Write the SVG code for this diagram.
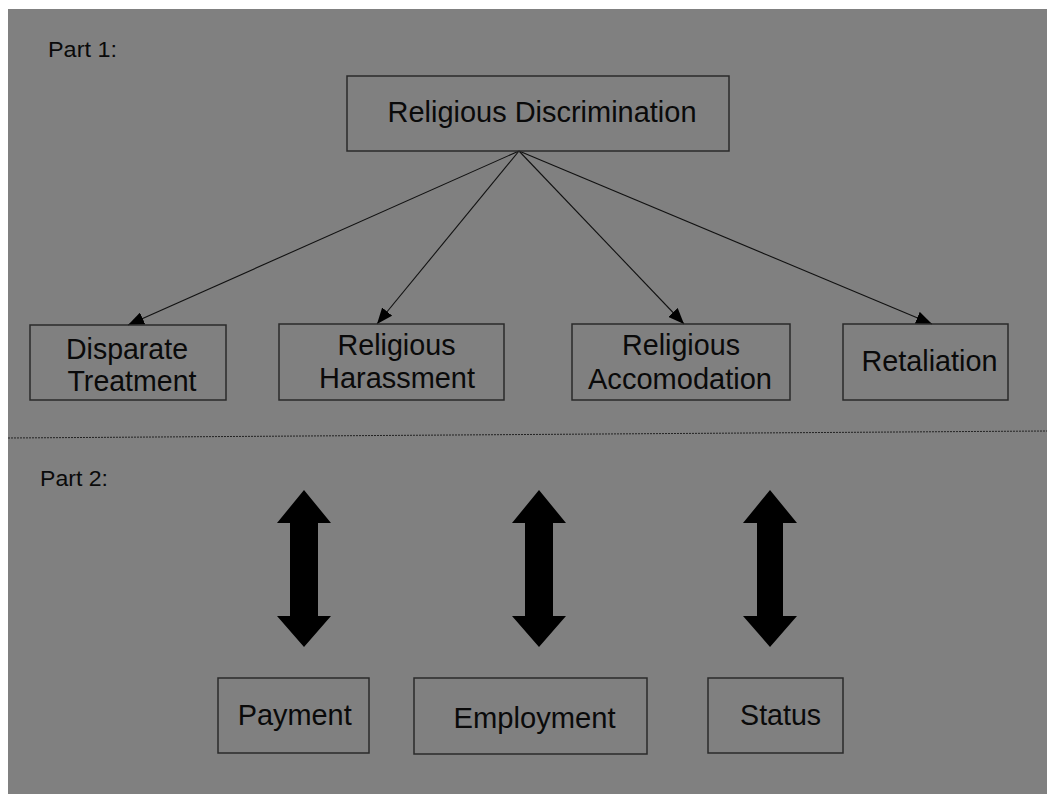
<svg xmlns="http://www.w3.org/2000/svg" width="1047" height="794" viewBox="0 0 1047 794">
<style>
.box{fill:none;stroke:#2a2a2a;stroke-width:1.5}
.t{font-family:"Liberation Sans",Arial,sans-serif;font-size:30px;fill:#0a0a0a;text-anchor:middle}
.lbl{font-family:"Liberation Sans",Arial,sans-serif;font-size:22px;fill:#0a0a0a}
.edge{stroke:#111;stroke-width:1.1;fill:none}
.big{fill:#000}
</style>
<defs>
<marker id="ah" markerUnits="userSpaceOnUse" markerWidth="17" markerHeight="13" refX="16" refY="6.5" orient="auto">
<path d="M0,0 L16,6.5 L0,13 z" fill="#000"/>
</marker>
</defs>
<rect x="0" y="0" width="1047" height="794" fill="#ffffff"/>
<rect x="8" y="9" width="1039" height="785" fill="#808080"/>
<text class="lbl" x="48" y="57" textLength="69" lengthAdjust="spacingAndGlyphs">Part 1:</text>
<text class="lbl" x="40" y="486" textLength="68" lengthAdjust="spacingAndGlyphs">Part 2:</text>
<line x1="8" y1="438" x2="1047" y2="431" stroke="#222" stroke-width="1" stroke-dasharray="2,1"/>
<g id="connectors">
<line class="edge" x1="519" y1="151" x2="128" y2="325" marker-end="url(#ah)"/>
<line class="edge" x1="519" y1="151" x2="377" y2="324" marker-end="url(#ah)"/>
<line class="edge" x1="519" y1="151" x2="684" y2="324" marker-end="url(#ah)"/>
<line class="edge" x1="519" y1="151" x2="932" y2="324" marker-end="url(#ah)"/>
<polygon class="big" points="304,490 331,523 318,523 318,616 331,616 304,647 277,616 290,616 290,523 277,523"/>
<polygon class="big" points="539,490 566,523 553,523 553,616 566,616 539,647 512,616 525,616 525,523 512,523"/>
<polygon class="big" points="770,490 797,523 783,523 783,616 797,616 770,647 743,616 757,616 757,523 743,523"/>
</g>
<g id="religious-discrimination">
<rect class="box" x="347" y="76" width="382" height="75"/>
<text class="t" x="542" y="122" textLength="309" lengthAdjust="spacingAndGlyphs">Religious Discrimination</text>
</g>
<g id="disparate-treatment">
<rect class="box" x="30" y="325" width="196" height="75"/>
<text class="t" x="127" y="359" textLength="122" lengthAdjust="spacingAndGlyphs">Disparate</text>
<text class="t" x="132" y="391" textLength="129" lengthAdjust="spacingAndGlyphs">Treatment</text>
</g>
<g id="religious-harassment">
<rect class="box" x="279" y="324" width="225" height="76"/>
<text class="t" x="396.5" y="355" textLength="118" lengthAdjust="spacingAndGlyphs">Religious</text>
<text class="t" x="397" y="388" textLength="156" lengthAdjust="spacingAndGlyphs">Harassment</text>
</g>
<g id="religious-accomodation">
<rect class="box" x="572" y="324" width="218" height="76"/>
<text class="t" x="681" y="355" textLength="118" lengthAdjust="spacingAndGlyphs">Religious</text>
<text class="t" x="680" y="389" textLength="184" lengthAdjust="spacingAndGlyphs">Accomodation</text>
</g>
<g id="retaliation">
<rect class="box" x="843" y="324" width="165" height="76"/>
<text class="t" x="929.5" y="371" textLength="136" lengthAdjust="spacingAndGlyphs">Retaliation</text>
</g>
<g id="payment">
<rect class="box" x="218" y="678" width="151" height="75"/>
<text class="t" x="294.7" y="725" textLength="114" lengthAdjust="spacingAndGlyphs">Payment</text>
</g>
<g id="employment">
<rect class="box" x="414" y="678" width="233" height="76"/>
<text class="t" x="534.6" y="728" textLength="162" lengthAdjust="spacingAndGlyphs">Employment</text>
</g>
<g id="status">
<rect class="box" x="708" y="678" width="135" height="75"/>
<text class="t" x="780.6" y="725" textLength="81" lengthAdjust="spacingAndGlyphs">Status</text>
</g>
</svg>
